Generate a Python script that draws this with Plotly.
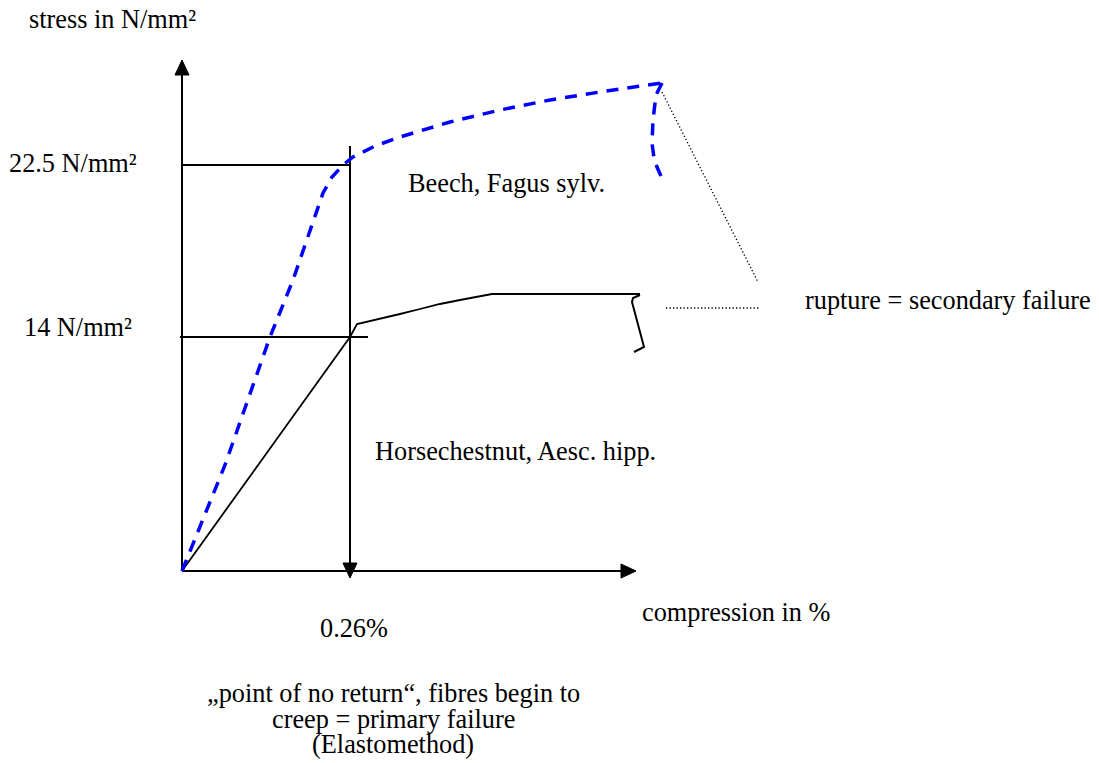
import plotly.graph_objects as go

# ------------ datos del esquema (coordenadas del lienzo, origen arriba-izquierda) ------------ #
# curva de la haya (Beech), discontinua azul
beech_x = [182, 203, 225, 245, 270, 293, 310, 323, 332, 343, 353, 375, 400, 450, 500, 550, 600, 630, 662]
beech_y = [571, 520, 465, 408, 337, 280, 230, 193, 177, 165, 157, 146, 137, 122, 110, 100, 92, 88, 83]
# gancho de rotura de la haya
hook_x = [662, 656, 653, 652, 654, 657, 661]
hook_y = [83, 95, 120, 143, 158, 167, 176]

# curva del castano de indias (Horsechestnut)
chestnut_x = [182, 350, 357, 380, 400, 420, 440, 460, 480, 492, 560, 640]
chestnut_y = [571, 337, 324, 319, 314, 309, 304, 300, 296, 294, 294, 294]
# rotura del castano (trazo a mano)
squiggle_x = [640, 633, 632, 634, 637, 640, 643, 644, 640, 634]
squiggle_y = [295, 298, 302, 310, 322, 334, 344, 347, 349, 352]

# lineas de referencia
ref_22_x, ref_22_y = [182, 350], [165, 165]
ref_14_x, ref_14_y = [180, 368], [337, 337]
ref_026_x, ref_026_y = [350, 350], [146, 566]

# lineas de puntos hacia la etiqueta de rotura
dot_diag_x, dot_diag_y = [662, 758], [92, 282]
dot_horiz_x, dot_horiz_y = [666, 759], [308, 308]

# ejes
yaxis_x, yaxis_y = [182, 182], [571, 74]
xaxis_x, xaxis_y = [182, 622], [571, 571]
arrow_up_x, arrow_up_y = [175, 182, 189, 175], [75, 60, 75, 75]
arrow_right_x, arrow_right_y = [621, 636, 621, 621], [564, 571, 578, 564]
arrow_down_x, arrow_down_y = [343, 350, 357, 343], [563, 578, 563, 563]

# textos (anclados a la izquierda)
label_text = ["stress in N/mm²", "14 N/mm²", "Beech, Fagus sylv.",
              "rupture = secondary failure", "Horsechestnut, Aesc. hipp.",
              "compression in %", "0.26%"]
label_x = [27, 22, 406, 803, 373, 640, 318]
label_y = [19, 327, 183, 300, 451, 612, 628]

# texto anclado a la derecha
label_r_text = ["22.5 N/mm²"]
label_r_x = [139]
label_r_y = [163]

note_text = ["„point of no return“, fibres begin to", "creep = primary failure", "(Elastomethod)"]
note_x = [393, 393, 393]
note_y = [693, 719, 744]

fig = go.Figure()

def linea(x, y, color="black", width=2, dash="solid"):
     fig.add_trace(go.Scatter(x=x, y=y, mode="lines",
                              line=dict(color=color, width=width, dash=dash),
                              hoverinfo="skip", showlegend=False))

def triangulo(x, y):
     fig.add_trace(go.Scatter(x=x, y=y, mode="lines", fill="toself",
                              fillcolor="black", line=dict(color="black", width=1),
                              hoverinfo="skip", showlegend=False))

# Ejes y flechas
linea(yaxis_x, yaxis_y)
linea(xaxis_x, xaxis_y)
triangulo(arrow_up_x, arrow_up_y)
triangulo(arrow_right_x, arrow_right_y)

# Lineas de referencia
linea(ref_22_x, ref_22_y)
linea(ref_14_x, ref_14_y)
linea(ref_026_x, ref_026_y)
triangulo(arrow_down_x, arrow_down_y)

# Curvas
linea(chestnut_x, chestnut_y, width=1.8)
linea(squiggle_x, squiggle_y, width=2)
linea(beech_x, beech_y, color="#0000FF", width=3.5, dash="12px,9px")
linea(hook_x, hook_y, color="#0000FF", width=3.5, dash="12px,9px")

# Lineas de puntos
linea(dot_diag_x, dot_diag_y, width=1.3, dash="1.3px,2.2px")
linea(dot_horiz_x, dot_horiz_y, width=1.3, dash="1.3px,2.2px")

fuente = dict(family="Liberation Serif, Times New Roman, serif", size=26.3, color="black")

for t, x, y in zip(label_text, label_x, label_y):
     fig.add_annotation(x=x, y=y, text=t, showarrow=False, xanchor="left",
                        yanchor="middle", font=fuente)

for t, x, y in zip(label_r_text, label_r_x, label_r_y):
     fig.add_annotation(x=x, y=y, text=t, showarrow=False, xanchor="right",
                        yanchor="middle", font=fuente)

for t, x, y in zip(note_text, note_x, note_y):
     fig.add_annotation(x=x, y=y, text=t, showarrow=False, xanchor="center",
                        yanchor="middle", font=fuente)

# La pagina tiene 8px de margen en el body: se compensa desplazando los rangos
fig.update_layout(
     width=1091,
     height=755,
     margin=dict(l=0, r=0, t=0, b=0),
     plot_bgcolor="white",
     paper_bgcolor="white",
     xaxis=dict(range=[8, 1099], visible=False, fixedrange=True),
     yaxis=dict(range=[763, 8], visible=False, fixedrange=True),
)

fig.write_html("out.html")
